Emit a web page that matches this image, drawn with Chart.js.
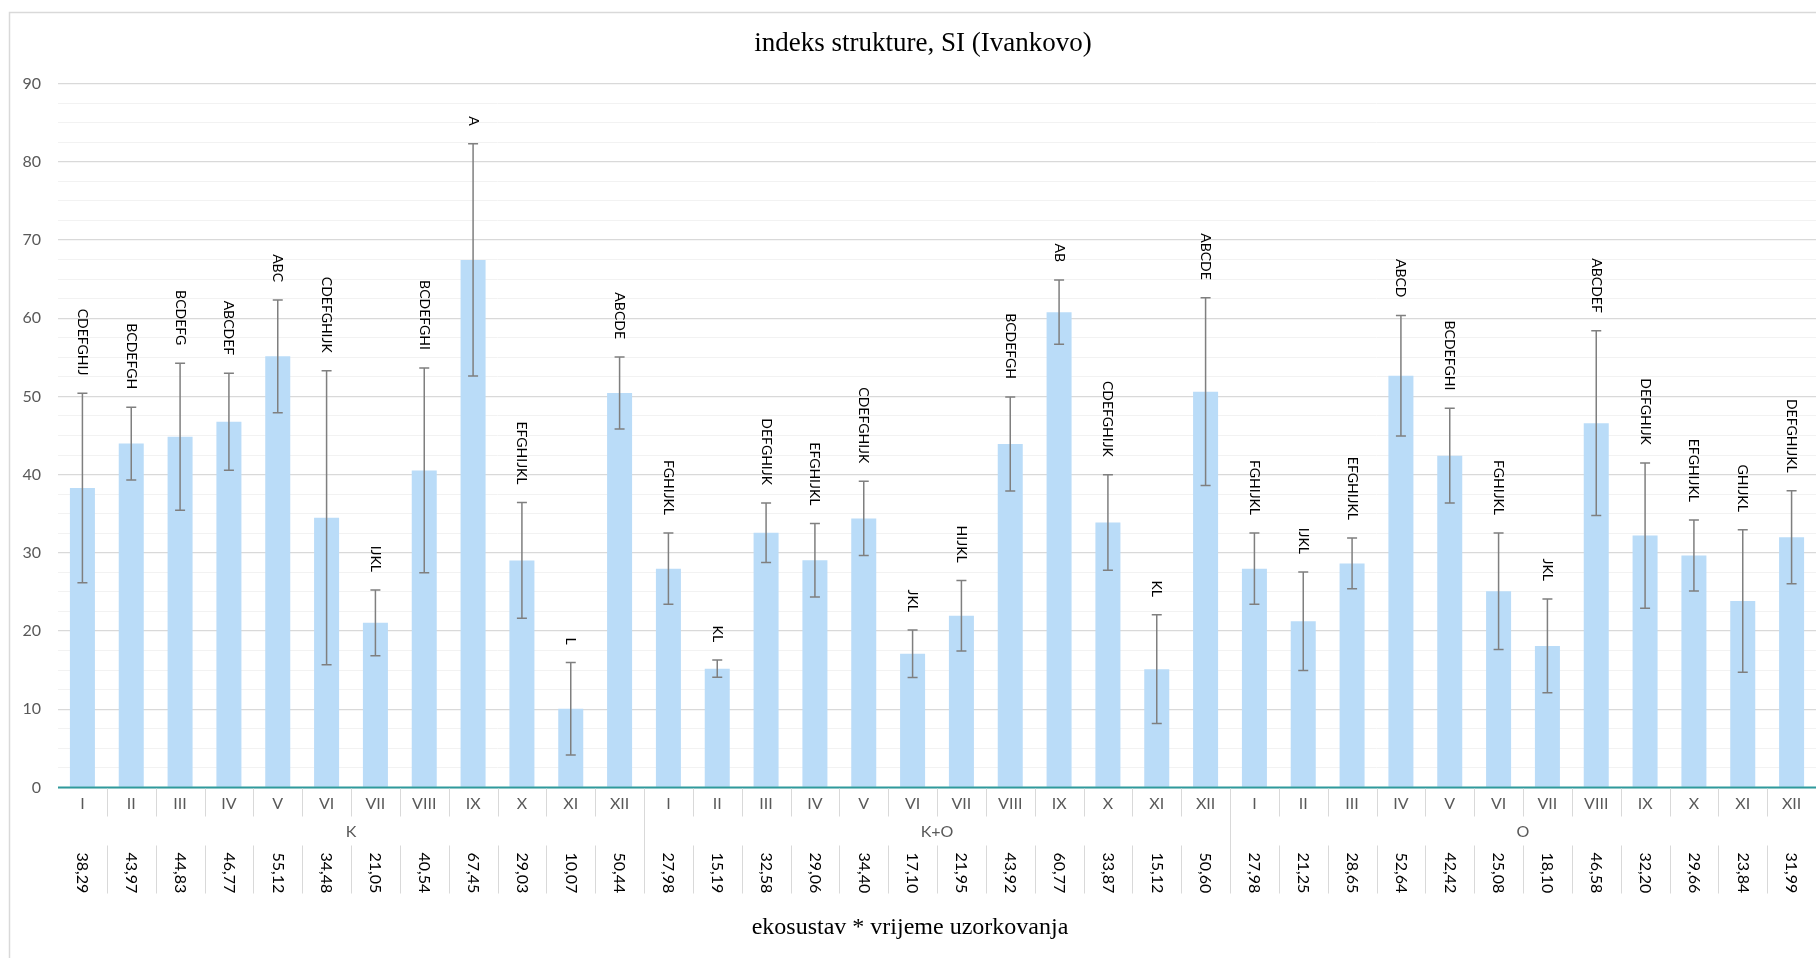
<!DOCTYPE html>
<html>
<head>
<meta charset="utf-8">
<title>indeks strukture, SI (Ivankovo)</title>
<script src="https://cdn.jsdelivr.net/npm/chart.js@4.4.1/dist/chart.umd.min.js"></script>
<style>
  html, body { margin: 0; padding: 0; background: #fff; }
  #wrap { width: 1816px; height: 958px; }
</style>
</head>
<body>
<div id="wrap"><canvas id="chart" width="1816" height="958"></canvas></div>
<script>
const months = ['I', 'II', 'III', 'IV', 'V', 'VI', 'VII', 'VIII', 'IX', 'X', 'XI', 'XII'];
const groups = ['K', 'K+O', 'O'];
const siValues = [
  38.29, 43.97, 44.83, 46.77, 55.12, 34.48, 21.05, 40.54, 67.45, 29.03, 10.07, 50.44,
  27.98, 15.19, 32.58, 29.06, 34.40, 17.10, 21.95, 43.92, 60.77, 33.87, 15.12, 50.60,
  27.98, 21.25, 28.65, 52.64, 42.42, 25.08, 18.10, 46.58, 32.20, 29.66, 23.84, 31.99
];
// standard deviation (error bars)
const siSd = [
  12.1, 4.65, 9.4, 6.2, 7.2, 18.8, 4.2, 13.1, 14.85, 7.4, 5.9, 4.6,
  4.55, 1.1, 3.8, 4.7, 4.75, 3.05, 4.5, 6.0, 4.1, 6.1, 6.95, 12.0,
  4.55, 6.3, 3.25, 7.7, 6.05, 7.45, 6.0, 11.8, 9.3, 4.55, 9.1, 5.95
];
const letters = [
  'CDEFGHIJ', 'BCDEFGH', 'BCDEFG', 'ABCDEF', 'ABC', 'CDEFGHIJK', 'IJKL', 'BCDEFGHI', 'A', 'EFGHIJKL', 'L', 'ABCDE',
  'FGHIJKL', 'KL', 'DEFGHIJK', 'EFGHIJKL', 'CDEFGHIJK', 'JKL', 'HIJKL', 'BCDEFGH', 'AB', 'CDEFGHIJK', 'KL', 'ABCDE',
  'FGHIJKL', 'IJKL', 'EFGHIJKL', 'ABCD', 'BCDEFGHI', 'FGHIJKL', 'JKL', 'ABCDEF', 'DEFGHIJK', 'EFGHIJKL', 'GHIJKL', 'DEFGHIJKL'
];
const yTicks = [0, 10, 20, 30, 40, 50, 60, 70, 80, 90];

const labels = [];
groups.forEach(g => months.forEach(m => labels.push(g + ' ' + m)));

const SANS = 'Lato, "Open Sans", sans-serif';
const SERIF = '"Liberation Serif", "DejaVu Serif", serif';

const decor = {
  id: 'decor',
  beforeDraw(chart) {
    const ctx = chart.ctx;
    ctx.save();
    ctx.fillStyle = '#fff';
    ctx.fillRect(0, 0, chart.width, chart.height);
    ctx.strokeStyle = '#d9d9d9';
    ctx.lineWidth = 1.5;
    ctx.beginPath();
    ctx.moveTo(9.5, chart.height);
    ctx.lineTo(9.5, 12.5);
    ctx.lineTo(chart.width, 12.5);
    ctx.stroke();
    ctx.restore();
  },
  afterDatasetsDraw(chart) {
    const ctx = chart.ctx;
    const y = chart.scales.y;
    const meta = chart.getDatasetMeta(0);
    ctx.save();
    // error bars
    ctx.strokeStyle = '#7f7f7f';
    ctx.lineWidth = 1.5;
    meta.data.forEach((bar, i) => {
      const top = y.getPixelForValue(siValues[i] + siSd[i]);
      const bot = y.getPixelForValue(siValues[i] - siSd[i]);
      ctx.beginPath();
      ctx.moveTo(bar.x, top); ctx.lineTo(bar.x, bot);
      ctx.moveTo(bar.x - 5, top); ctx.lineTo(bar.x + 5, top);
      ctx.moveTo(bar.x - 5, bot); ctx.lineTo(bar.x + 5, bot);
      ctx.stroke();
    });
    // significance letters, rotated
    ctx.fillStyle = '#000';
    ctx.font = '14px ' + SANS;
    ctx.textAlign = 'right';
    ctx.textBaseline = 'middle';
    meta.data.forEach((bar, i) => {
      const top = y.getPixelForValue(siValues[i] + siSd[i]);
      ctx.save();
      ctx.translate(bar.x, top - 18);
      ctx.rotate(Math.PI / 2);
      ctx.fillText(letters[i], 0, 0);
      ctx.restore();
    });
    // axis line
    const y0 = y.getPixelForValue(0);
    ctx.strokeStyle = '#2f9a9c';
    ctx.lineWidth = 2;
    ctx.beginPath();
    ctx.moveTo(chart.chartArea.left, y0);
    ctx.lineTo(chart.chartArea.right, y0);
    ctx.stroke();
    ctx.restore();
  },
  afterDraw(chart) {
    const ctx = chart.ctx;
    const x = chart.scales.x, y = chart.scales.y;
    const y0 = y.getPixelForValue(0) + 1;
    const n = siValues.length;
    const half = (x.getPixelForValue(1) - x.getPixelForValue(0)) / 2;
    ctx.save();
    // separators
    ctx.strokeStyle = '#d9d9d9';
    ctx.lineWidth = 1;
    for (let i = 0; i < n - 1; i++) {
      const sx = Math.round(x.getPixelForValue(i) + half) + 0.5;
      ctx.beginPath();
      if ((i + 1) % months.length === 0) {
        ctx.moveTo(sx, y0); ctx.lineTo(sx, y0 + 105);
      } else {
        ctx.moveTo(sx, y0); ctx.lineTo(sx, y0 + 28);
        ctx.moveTo(sx, y0 + 57); ctx.lineTo(sx, y0 + 105);
      }
      ctx.stroke();
    }
    // month labels
    ctx.fillStyle = '#595959';
    ctx.font = '16px ' + SANS;
    ctx.textAlign = 'center';
    ctx.textBaseline = 'middle';
    for (let i = 0; i < n; i++) {
      ctx.fillText(months[i % months.length], x.getPixelForValue(i), y0 + 15);
    }
    // group labels
    groups.forEach((g, gi) => {
      const a = x.getPixelForValue(gi * months.length);
      const b = x.getPixelForValue(gi * months.length + months.length - 1);
      ctx.fillText(g, (a + b) / 2, y0 + 43);
    });
    // value row, rotated
    ctx.fillStyle = '#000';
    ctx.font = '16px ' + SANS;
    ctx.textAlign = 'left';
    for (let i = 0; i < n; i++) {
      ctx.save();
      ctx.translate(x.getPixelForValue(i), y0 + 64);
      ctx.rotate(Math.PI / 2);
      ctx.fillText(siValues[i].toFixed(2).replace('.', ','), 0, 0);
      ctx.restore();
    }
    // titles
    ctx.fillStyle = '#000';
    ctx.textAlign = 'center';
    ctx.font = '27px ' + SERIF;
    ctx.fillText('indeks strukture, SI (Ivankovo)', 923, 44);
    ctx.font = '24px ' + SERIF;
    ctx.fillText('ekosustav * vrijeme uzorkovanja', 910, 928);
    ctx.restore();
  }
};

new Chart(document.getElementById('chart'), {
  type: 'bar',
  data: {
    labels,
    datasets: [{
      label: 'SI',
      data: siValues,
      backgroundColor: '#badcf8',
      borderWidth: 0,
      categoryPercentage: 1,
      barPercentage: 0.512
    }]
  },
  options: {
    responsive: false,
    animation: false,
    layout: { padding: { top: 83.5, bottom: 170.5, left: 0, right: 0 } },
    plugins: { legend: { display: false }, tooltip: { enabled: false }, title: { display: false } },
    scales: {
      x: { display: false },
      y: {
        min: 0, max: 90,
        afterFit(scale) { scale.width = 58; },
        border: { display: false },
        grid: {
          drawTicks: false,
          color: c => (c.tick && yTicks.includes(c.tick.value)) ? '#d9d9d9' : '#f2f2f2',
          lineWidth: c => (c.tick && yTicks.includes(c.tick.value)) ? 1.3 : 1
        },
        ticks: {
          stepSize: 2.5,
          autoSkip: false,
          padding: 17,
          color: '#595959',
          font: { family: SANS, size: 16 },
          callback: v => yTicks.includes(v) ? String(v) : ''
        }
      }
    }
  },
  plugins: [decor]
});
</script>
</body>
</html>
